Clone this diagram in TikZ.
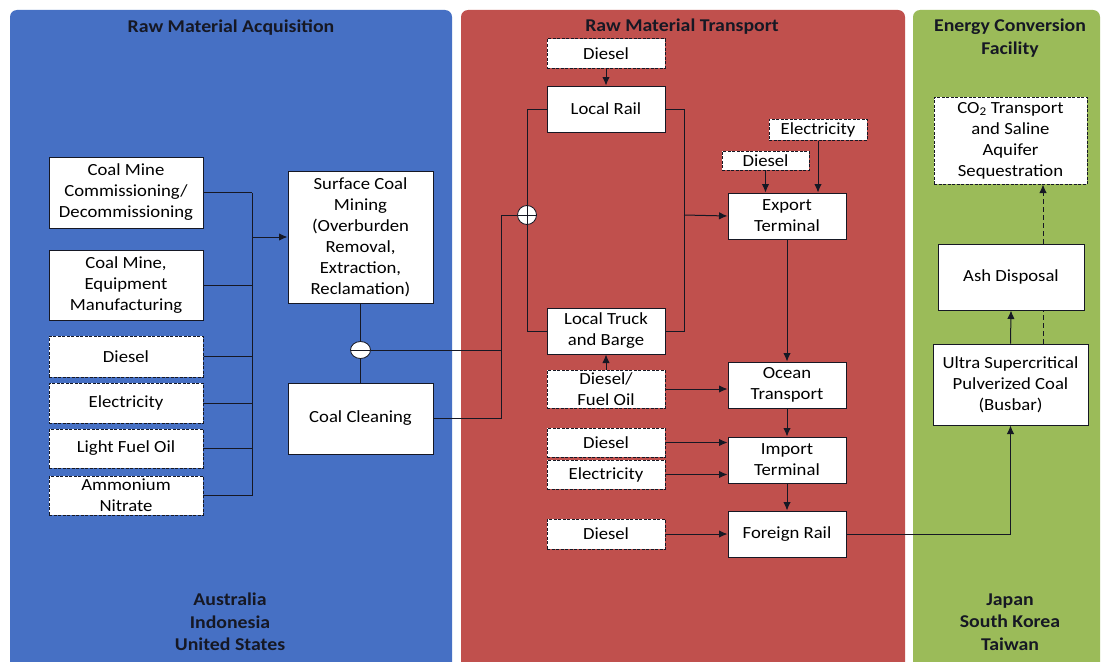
\documentclass[tikz,border=0pt]{standalone}
\usepackage{fontspec}
\setmainfont{Carlito}[FakeStretch=1.1]
\usetikzlibrary{positioning,shapes.geometric,arrows.meta}
\definecolor{acqblue}{RGB}{70,112,196}
\definecolor{transred}{RGB}{192,80,77}
\definecolor{convgreen}{RGB}{155,187,89}
\definecolor{ink}{RGB}{22,24,36}

\begin{document}
\begin{tikzpicture}[x=1pt,y=-1pt,>={Latex[length=8.5pt,width=7.5pt]},
	box/.style={draw=ink,fill=white,line width=1pt,align=center,inner sep=1pt,font=\fontsize{17}{21}\selectfont},
	inbox/.style={box,dash pattern=on 3pt off 1.5pt},
	heading/.style={font=\bfseries\fontsize{18}{22.5}\selectfont,text=ink,align=center},
	flow/.style={draw=ink,line width=1pt},
	junction/.style={ellipse,draw=ink,fill=white,line width=0.8pt,minimum width=20pt,minimum height=17pt,inner sep=0pt,
		path picture={\draw[ink,line width=1pt] (path picture bounding box.west) -- (path picture bounding box.east);}},
	crossing/.style={junction,circle,minimum size=19pt,
		path picture={\draw[ink,line width=1pt] (path picture bounding box.west) -- (path picture bounding box.east)
			(path picture bounding box.north) -- (path picture bounding box.south);}}]
	\clip (0,0) rectangle (1102,661);
	\fill[white] (0,0) rectangle (1102,661);
	\fill[acqblue,rounded corners=7pt] (10,10) rectangle (452,700);
	\fill[transred,rounded corners=7pt] (461,10) rectangle (905,700);
	\fill[convgreen,rounded corners=7pt] (913,10) rectangle (1100,700);
	\node[heading] (acqhead) at (231,28) {Raw Material Acquisition};
	\node[heading] (trnhead) at (682,27) {Raw Material Transport};
	\node[heading] (convhead) at (1010,38) {Energy Conversion\\Facility};
	\node[heading] (acqland) at (230,622) {Australia\\Indonesia\\United States};
	\node[heading] (convland) at (1010,622) {Japan\\South Korea\\Taiwan};
	% acquisition
	\node[box,minimum width=154pt,minimum height=71pt] (commis) at (126,192.5) {Coal Mine\\Commissioning/\\Decommissioning};
	\node[box,minimum width=154pt,minimum height=70pt] (equip) at (126,285) {Coal Mine,\\Equipment\\Manufacturing};
	\node[inbox,minimum width=154pt,minimum height=41pt] (acqdsl) at (126,356.5) {Diesel};
	\node[inbox,minimum width=154pt,minimum height=40pt] (acqelec) at (126,403) {Electricity};
	\node[inbox,minimum width=154pt,minimum height=39pt] (lfo) at (126,448.5) {Light Fuel Oil};
	\node[inbox,minimum width=154pt,minimum height=39pt] (ammon) at (126,495.5) {Ammonium\\Nitrate};
	\node[box,minimum width=145pt,minimum height=132pt] (mining) at (360.5,237) {Surface Coal\\Mining\\(Overburden\\Removal,\\Extraction,\\Reclamation)};
	\node[box,minimum width=145pt,minimum height=71pt] (cleaning) at (360.5,418.5) {Coal Cleaning};
	\node[junction] (jmine) at (360.5,350) {};
	\coordinate (bustop) at (252,192.5);
	\coordinate (busbot) at (252,495.5);
	\draw[flow] (bustop) -- (busbot);
	\foreach \n in {commis,equip,acqdsl,acqelec,lfo,ammon}
		\draw[flow] (\n.east) -- (\n.east -| bustop);
	\draw[flow,->] (bustop |- mining.west) -- (mining.west);
	\draw[flow] (mining.south) -- (jmine.north);
	\draw[flow] (jmine.south) -- (cleaning.north);
	% transport
	\node[inbox,minimum width=118pt,minimum height=29pt] (raildsl) at (606,53.5) {Diesel};
	\node[box,minimum width=118pt,minimum height=46pt] (lrail) at (606,109) {Local Rail};
	\node[box,minimum width=118pt,minimum height=46pt] (ltruck) at (606,331) {Local Truck\\and Barge};
	\node[inbox,minimum width=118pt,minimum height=38pt] (dfo) at (606,389) {Diesel/\\Fuel Oil};
	\node[inbox,minimum width=118pt,minimum height=29pt] (impdsl) at (606,442.5) {Diesel};
	\node[inbox,minimum width=118pt,minimum height=29pt] (impelec) at (606,474.5) {Electricity};
	\node[inbox,minimum width=118pt,minimum height=30pt] (fordsl) at (606,534) {Diesel};
	\node[inbox,minimum width=98pt,minimum height=21pt] (expelec) at (818,129.5) {Electricity};
	\node[inbox,minimum width=87pt,minimum height=19pt] (expdsl) at (765.5,160.5) {Diesel};
	\node[box,minimum width=118pt,minimum height=46pt] (export) at (787,216) {Export\\Terminal};
	\node[box,minimum width=118pt,minimum height=46pt] (ocean) at (787,385) {Ocean\\Transport};
	\node[box,minimum width=118pt,minimum height=46pt] (import) at (787,460) {Import\\Terminal};
	\node[box,minimum width=118pt,minimum height=46pt] (foreign) at (787,534) {Foreign Rail};
	\node[crossing] (jrail) at (527,215) {};
	\coordinate (spine) at (501,215);
	\coordinate (merge) at (684,215);
	\draw[flow] (jmine.east) -- (jmine.east -| spine);
	\draw[flow] (cleaning.east) -| (spine) -- (jrail.west);
	\draw[flow] (lrail.west) -| (jrail.north);
	\draw[flow] (jrail.south) |- (ltruck.west);
	\draw[flow] (lrail.east) -| (merge);
	\draw[flow] (ltruck.east) -| (merge);
	\draw[flow,->] (merge) -- (export.west);
	\draw[flow,->] (raildsl) -- (lrail);
	\draw[flow,->] (dfo) -- (ltruck);
	\draw[flow,->] (expdsl.south) -- (expdsl.south |- export.north);
	\draw[flow,->] (expelec.south) -- (expelec.south |- export.north);
	\draw[flow,->] (export) -- (ocean);
	\draw[flow,->] (ocean) -- (import);
	\draw[flow,->] (import) -- (foreign);
	\draw[flow,->] (dfo.east) -- (dfo.east -| ocean.west);
	\draw[flow,->] (impdsl.east) -- (impdsl.east -| import.west);
	\draw[flow,->] (impelec.east) -- (impelec.east -| import.west);
	\draw[flow,->] (fordsl.east) -- (fordsl.east -| foreign.west);
	% conversion
	\node[inbox,minimum width=153pt,minimum height=87pt] (seq) at (1010.5,140.5) {CO\textsubscript{2} Transport\\and Saline\\Aquifer\\Sequestration};
	\node[box,minimum width=146pt,minimum height=66pt] (ash) at (1011,277) {Ash Disposal};
	\node[box,minimum width=155pt,minimum height=81pt] (uscpc) at (1010.5,384.5) {Ultra Supercritical\\Pulverized Coal\\(Busbar)};
	\draw[flow,->] (foreign.east) -| (uscpc.south);
	\draw[flow,->] (uscpc.north) -- (ash.south);
	\draw[flow,dash pattern=on 5pt off 3pt] ([xshift=33pt]uscpc.north) -- ([xshift=33pt]uscpc.north |- ash.south);
	\draw[flow,dash pattern=on 5pt off 3pt,->] ([xshift=32pt]ash.north) -- ([xshift=32pt]ash.north |- seq.south);
\end{tikzpicture}
\end{document}
